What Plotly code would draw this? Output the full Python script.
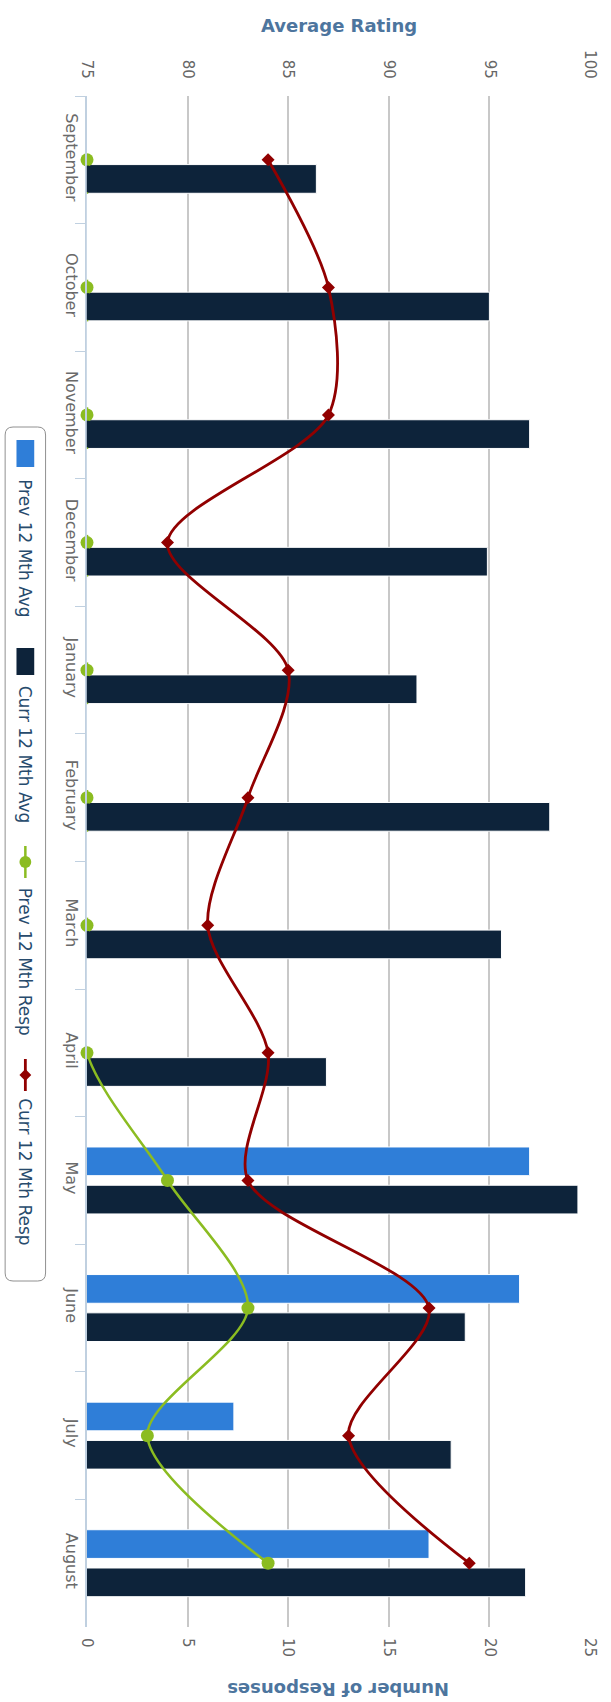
import plotly.graph_objects as go

# ---- data -------------------------------------------------------------
months = ["September", "October", "November", "December", "January", "February",
          "March", "April", "May", "June", "July", "August"]

# average rating (rating axis 75-100)
prev_avg = [None, None, None, None, None, None, None, None, 97.0, 96.5, 82.3, 92.0]
curr_avg = [86.4, 95.0, 97.0, 94.9, 91.4, 98.0, 95.6, 86.9, 99.4, 93.8, 93.1, 96.8]

# number of responses (response axis 0-25)
prev_resp = [0, 0, 0, 0, 0, 0, 0, 0, 4, 8, 3, 9]
curr_resp = [9, 12, 12, 4, 10, 8, 6, 9, 8, 17, 13, 19]

rating_ticks = [75, 80, 85, 90, 95, 100]
resp_ticks = [0, 5, 10, 15, 20, 25]

series_names = ["Prev 12 Mth Avg", "Curr 12 Mth Avg", "Prev 12 Mth Resp", "Curr 12 Mth Resp"]

# ---- styling ----------------------------------------------------------
C_PREV_BAR = "#2f7ed8"
C_CURR_BAR = "#0d233a"
C_PREV_LINE = "#8bbc21"
C_CURR_LINE = "#910000"
FONT = "DejaVu Sans"

W, H = 611, 1702
ML, MR, MT, MB = 87, 14, 96, 75
PW, PH = W - ML - MR, H - MT - MB

BARGAP, BARGROUPGAP = 0.4, 0.25


def px(x):
    return (x - ML) / PW


def py(y):
    return 1 - (y - MT) / PH


fig = go.Figure()

# bars on the rating axis (x, drawn at the top)
fig.add_trace(go.Bar(
    y=months, x=prev_avg, orientation="h", name=series_names[0],
    marker=dict(color=C_PREV_BAR, line=dict(color="#ffffff", width=1)),
    xaxis="x", yaxis="y", showlegend=False,
))
fig.add_trace(go.Bar(
    y=months, x=curr_avg, orientation="h", name=series_names[1],
    marker=dict(color=C_CURR_BAR, line=dict(color="#ffffff", width=1)),
    xaxis="x", yaxis="y", showlegend=False,
))

# response lines on the overlaid response axis (x2, drawn at the bottom)
for vals, col, width, sym, size, name in [
    (prev_resp, C_PREV_LINE, 2.5, "circle", 13, series_names[2]),
    (curr_resp, C_CURR_LINE, 2.8, "diamond", 10, series_names[3]),
]:
    fig.add_trace(go.Scatter(
        y=months, x=vals, mode="lines", name=name,
        line=dict(color=col, width=width, shape="spline", smoothing=0.85),
        xaxis="x2", yaxis="y", showlegend=False, cliponaxis=True,
    ))
    fig.add_trace(go.Scatter(
        y=months, x=vals, mode="markers", name=name,
        marker=dict(color=col, symbol=sym, size=size, line=dict(width=0)),
        xaxis="x2", yaxis="y", showlegend=False, cliponaxis=False,
    ))

fig.update_layout(
    width=W, height=H,
    margin=dict(l=ML, r=MR, t=MT, b=MB, pad=0),
    paper_bgcolor="#ffffff", plot_bgcolor="#ffffff",
    barmode="group", bargap=BARGAP, bargroupgap=BARGROUPGAP,
    font=dict(family=FONT, color="#666666"),
    xaxis=dict(
        side="top", range=[75, 100], tickvals=rating_ticks,
        ticktext=[str(v) for v in rating_ticks],
        showgrid=True, gridcolor="#c8c8c8", gridwidth=1.5,
        zeroline=False, showline=False, ticks="",
        tickangle=90, tickfont=dict(size=15, color="#666666", family=FONT),
        ticklabelstandoff=14, fixedrange=True,
    ),
    xaxis2=dict(
        overlaying="x", side="bottom", anchor="y", range=[0, 25],
        tickvals=resp_ticks, ticktext=[str(v) for v in resp_ticks],
        showgrid=False, zeroline=False, showline=False, ticks="",
        tickangle=90, tickfont=dict(size=15, color="#666666", family=FONT),
        ticklabelstandoff=10, fixedrange=True,
    ),
    yaxis=dict(
        type="category", categoryorder="array", categoryarray=months,
        range=[11.5, -0.5], showgrid=False, zeroline=False,
        showline=True, linecolor="#c0d0e0", linewidth=1.5,
        ticks="outside", ticklen=10, tickwidth=1, tickcolor="#c0d0e0",
        tickson="boundaries", tickangle=90,
        tickfont=dict(size=16, color="#6a6a6a", family=FONT),
        layer="above traces", fixedrange=True,
    ),
    showlegend=False,
)

# The zero-valued stretch of the previous-year line runs along the category
# axis; keep it out of sight between the dots (white over the background,
# bar colour over the current-year bar that starts at the axis).
slot = (1 - BARGAP) / 2
bar_lo = slot * BARGROUPGAP / 2 + 0.008
bar_hi = slot - slot * BARGROUPGAP / 2 - 0.008
for i, (a, b) in enumerate(zip(prev_resp[:-1], prev_resp[1:])):
    if a == 0 and b == 0:
        fig.add_shape(type="rect", xref="paper", yref="y",
                      x0=px(ML - 0.2), x1=px(ML + 2.2), y0=i + bar_lo, y1=i + bar_hi,
                      fillcolor=C_CURR_BAR, line=dict(width=0), layer="above")
        fig.add_shape(type="rect", xref="paper", yref="y",
                      x0=px(ML - 0.2), x1=px(ML + 2.2), y0=i + bar_hi + 0.012, y1=i + 0.94,
                      fillcolor="#ffffff", line=dict(width=0), layer="above")

# axis titles
fig.add_annotation(
    text="<b>Average Rating</b>", xref="paper", yref="paper",
    x=0.5, y=py(25), xanchor="center", yanchor="middle", showarrow=False,
    font=dict(size=18, color="#4d759e", family=FONT),
)
fig.add_annotation(
    text="<b>Number of Responses</b>", xref="paper", yref="paper",
    x=0.5, y=py(1690), xanchor="center", yanchor="middle", showarrow=False,
    textangle=180, font=dict(size=18, color="#4d759e", family=FONT),
)

# ---- legend drawn as a vertical box on the left --------------------------
lx0, lx1, ly0, ly1, r = 4, 45, 427, 1281, 8
path = (
    f"M {px(lx0 + r)},{py(ly0)} L {px(lx1 - r)},{py(ly0)} "
    f"Q {px(lx1)},{py(ly0)} {px(lx1)},{py(ly0 + r)} "
    f"L {px(lx1)},{py(ly1 - r)} Q {px(lx1)},{py(ly1)} {px(lx1 - r)},{py(ly1)} "
    f"L {px(lx0 + r)},{py(ly1)} Q {px(lx0)},{py(ly1)} {px(lx0)},{py(ly1 - r)} "
    f"L {px(lx0)},{py(ly0 + r)} Q {px(lx0)},{py(ly0)} {px(lx0 + r)},{py(ly0)} Z"
)
fig.add_shape(type="path", path=path, xref="paper", yref="paper",
              line=dict(color="#909090", width=1), fillcolor="rgba(255,255,255,0)",
              layer="above")

cx = 24.5
# column symbols
for top, col in [(440, C_PREV_BAR), (648, C_CURR_BAR)]:
    fig.add_shape(type="rect", xref="paper", yref="paper",
                  x0=px(cx - 9), x1=px(cx + 9), y0=py(top), y1=py(top + 27),
                  fillcolor=col, line=dict(width=0), layer="above")

# line symbols
for top, col, width in [(846, C_PREV_LINE, 2.5), (1059, C_CURR_LINE, 2.8)]:
    fig.add_shape(type="line", xref="paper", yref="paper",
                  x0=px(cx), x1=px(cx), y0=py(top), y1=py(top + 32),
                  line=dict(color=col, width=width), layer="above")

# circle marker for the previous-year responses
cy = 862
fig.add_shape(type="circle", xref="paper", yref="paper",
              x0=px(cx - 6), x1=px(cx + 6), y0=py(cy - 6), y1=py(cy + 6),
              fillcolor=C_PREV_LINE, line=dict(width=0), layer="above")

# diamond marker for the current-year responses
dy, d = 1075, 6
dpath = (f"M {px(cx)},{py(dy - d)} L {px(cx + d)},{py(dy)} "
         f"L {px(cx)},{py(dy + d)} L {px(cx - d)},{py(dy)} Z")
fig.add_shape(type="path", path=dpath, xref="paper", yref="paper",
              fillcolor=C_CURR_LINE, line=dict(width=0), layer="above")

# legend labels
for start, name in zip([477, 684, 886, 1096], series_names):
    fig.add_annotation(
        text=name, xref="paper", yref="paper", x=px(cx), y=py(start),
        xanchor="center", yanchor="top", showarrow=False, textangle=90,
        font=dict(size=17, color="#274b6d", family=FONT),
    )

fig.write_html("out.html", config={"displayModeBar": False})
